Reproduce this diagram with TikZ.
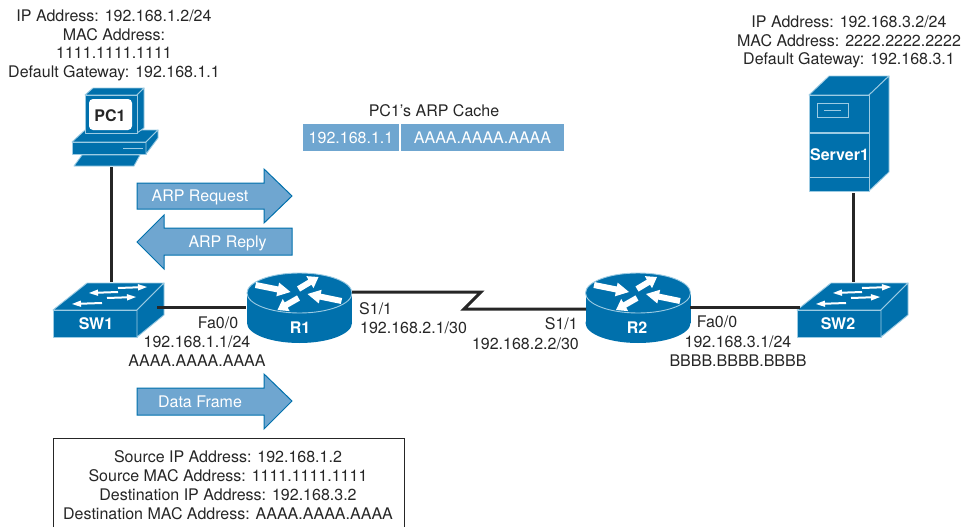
\documentclass[tikz,border=0pt]{standalone}
\usepackage{fontspec}
\setmainfont{TeX Gyre Heros}
\usetikzlibrary{calc}
\definecolor{devblue}{HTML}{0070AC}
\definecolor{edgeblue}{HTML}{9CCBE3}
\definecolor{panelblue}{HTML}{6FA6D0}
\definecolor{inkgray}{HTML}{262626}
\newcommand{\flatarrow}[5]{%
  \fill[white] ($(#1)!#3!90:(#2)$) -- ($(#2)!#4!(#1)!#3!-90:(#1)$) -- ($(#2)!#4!(#1)!#5!-90:(#1)$) -- (#2)
   -- ($(#2)!#4!(#1)!#5!90:(#1)$) -- ($(#2)!#4!(#1)!#3!90:(#1)$) -- ($(#1)!#3!-90:(#2)$) -- cycle;}
\tikzset{
  x=1pt,y=-1pt,
  txt/.style={font=\fontsize{16}{18.8}\selectfont,text=inkgray,inner sep=0pt,align=center},
  devlabel/.style={font=\fontsize{16}{18}\selectfont\bfseries,text=white,inner sep=0pt},
  link/.style={line width=3pt,draw=inkgray},
  devface/.style={fill=devblue,draw=edgeblue,line width=0.9pt,line join=round},
  flow/.style={fill=panelblue,draw=devblue,line width=1pt,line join=miter},
  cell/.style={fill=panelblue,draw=none,minimum height=27pt,inner sep=0pt,text=white,font=\fontsize{16}{18}\selectfont},
  flowtxt/.style={font=\fontsize{16}{18}\selectfont,text=white,inner sep=0pt},
  pics/routerdev/.style={code={
    \fill[devblue] (-52.5,0) rectangle (52.5,30);
    \fill[devblue] (0,30) ellipse [x radius=52.5pt,y radius=20pt];
    \draw[devface] (0,0) ellipse [x radius=52.5pt,y radius=20pt];
    \flatarrow{-44,-8}{-9,-1}{3pt}{13pt}{7pt}
    \flatarrow{-1,-4}{19,-16}{3pt}{10pt}{7pt}
    \flatarrow{42,8}{8,1}{3pt}{13pt}{7pt}
    \flatarrow{-1,5}{-22,17}{3pt}{10pt}{7pt}
  }},
  pics/switchdev/.style={code={
    \path[devface] (-84,0) -- (-50,-27) -- (27,-27) -- (0,0) -- cycle;
    \path[devface] (-84,0) rectangle (0,27);
    \path[devface] (0,0) -- (27,-27) -- (27,5) -- (0,27) -- cycle;
    \flatarrow{-19,-22}{10,-23}{1pt}{9pt}{3.2pt}
    \flatarrow{-19,-18}{-48,-17}{1pt}{9pt}{3.2pt}
    \flatarrow{-30,-12}{-1,-13}{1pt}{9pt}{3.2pt}
    \flatarrow{-35,-7}{-65,-6}{1pt}{9pt}{3.2pt}
  }}
}
\begin{document}
\begin{tikzpicture}
\useasboundingbox (0,0) rectangle (963,527);

% PC1
\path[devface] (85,130) -- (72,142) -- (146,142) -- (158,130) -- cycle;
\path[devface] (72,142) rectangle (146,154);
\path[devface] (146,142) -- (158,130) -- (158,138) -- (146,154) -- cycle;
\draw[edgeblue,line width=1pt] (123,148) -- (143,148);
\path[devface] (74,166) -- (82,155) -- (140,155) -- (134,166) -- cycle;
\path[devface] (85,95) -- (93,88) -- (144,88) -- (137,95) -- cycle;
\path[devface] (137,95) -- (144,88) -- (144,128) -- (137,133) -- cycle;
\path[devface] (85,95) rectangle (137,133);
\fill[white,rounded corners=4pt] (89,99) rectangle (132,130);
\node[font=\fontsize{16}{18}\selectfont\bfseries,text=inkgray,inner sep=0pt] (pc1) at (110,116) {PC1};

% Server1
\path[devface] (809,95) -- (829,76) -- (889,76) -- (869,95) -- cycle;
\path[devface] (869,95) -- (889,76) -- (889,172) -- (869,191) -- cycle;
\path[devface] (809,95) rectangle (869,191);
\draw[edgeblue,line width=1.3pt] (809,133) -- (869,133);
\draw[edgeblue,line width=0.9pt] (809,177) -- (869,177);
\draw[edgeblue,line width=0.9pt] (817,103.5) rectangle (848,117);
\draw[edgeblue,line width=0.9pt] (824,110) -- (841,110);
\node[devlabel] (server1) at (839.5,154.5) {Server1};

% Switches
\pic at (137,310) {switchdev};
\pic at (881,310) {switchdev};
\node[devlabel] (sw1) at (96,323.5) {SW1};
\node[devlabel] (sw2) at (838,323.5) {SW2};

% Routers
\pic at (299.5,293) {routerdev};
\pic at (638,293) {routerdev};
\node[devlabel] (r1) at (300,327.5) {R1};
\node[devlabel] (r2) at (637,328) {R2};

% Ports and connectors
\coordinate (pc1port) at (111,167);
\coordinate (sw1top) at (111,282);
\coordinate (sw1right) at (157,307);
\coordinate (r1left) at (246,307);
\coordinate (r1right) at (352,292);
\coordinate (zigtop) at (481,292);
\coordinate (zigbot) at (464,309);
\coordinate (r2left) at (586,309);
\coordinate (r2right) at (690,307);
\coordinate (sw2left) at (800,307);
\coordinate (srvport) at (853,193);
\coordinate (sw2top) at (853,282);
\draw[link] (pc1port) -- (sw1top);
\draw[link] (sw1right) -- (r1left);
\draw[link,line join=miter] (r1right) -- (zigtop) -- (zigbot) -- (r2left);
\draw[link] (r2right) -- (sw2left);
\draw[link] (srvport) -- (sw2top);

% Flow arrows
\path[flow] (137,183) -- (264,183) -- (264,169) -- (292,196) -- (264,223) -- (264,209) -- (137,209) -- cycle;
\path[flow] (292,228) -- (164,228) -- (164,215) -- (137,242) -- (164,269) -- (164,255) -- (292,255) -- cycle;
\path[flow] (137,388) -- (264,388) -- (264,374) -- (292,401) -- (264,429) -- (264,415) -- (137,415) -- cycle;
\node[flowtxt] (arpreq) at (200,197) {ARP Request};
\node[flowtxt] (arprep) at (227.5,243) {ARP Reply};
\node[flowtxt] (dataframe) at (200,402) {Data Frame};

% ARP cache
\node[txt] (cachetitle) at (434,111) {PC1’s ARP Cache};
\node[cell,minimum width=96pt] (cacheip) at (351,137.5) {192.168.1.1};
\node[cell,minimum width=163pt] (cachemac) at (482.5,137.5) {AAAA.AAAA.AAAA};

% Host texts
\node[txt] (pc1info) at (114,45.5) {IP Address: 192.168.1.2/24\\MAC Address:\\1111.1111.1111\\Default Gateway: 192.168.1.1};
\node[txt] (srvinfo) at (849,42) {IP Address: 192.168.3.2/24\\MAC Address: 2222.2222.2222\\Default Gateway: 192.168.3.1};

% Interface labels
\node[txt] (r1fa) at (218,323) {Fa0/0};
\node[txt] (r1faip) at (197,342) {192.168.1.1/24};
\node[txt] (r1famac) at (197,361) {AAAA.AAAA.AAAA};
\node[txt,anchor=west] (r1s) at (359,309) {S1/1};
\node[txt,anchor=west] (r1sip) at (360,328) {192.168.2.1/30};
\node[txt,anchor=east] (r2s) at (578,324) {S1/1};
\node[txt,anchor=east] (r2sip) at (579,344) {192.168.2.2/30};
\node[txt] (r2fa) at (717,322) {Fa0/0};
\node[txt] (r2faip) at (738,342) {192.168.3.1/24};
\node[txt] (r2famac) at (738,361) {BBBB.BBBB.BBBB};

% Frame details
\draw[inkgray,line width=1pt] (53,527) -- (53,438) -- (404,438) -- (404,527);
\node[txt] (frameinfo) at (228,485) {Source IP Address: 192.168.1.2\\Source MAC Address: 1111.1111.1111\\Destination IP Address: 192.168.3.2\\Destination MAC Address: AAAA.AAAA.AAAA};
\end{tikzpicture}
\end{document}
